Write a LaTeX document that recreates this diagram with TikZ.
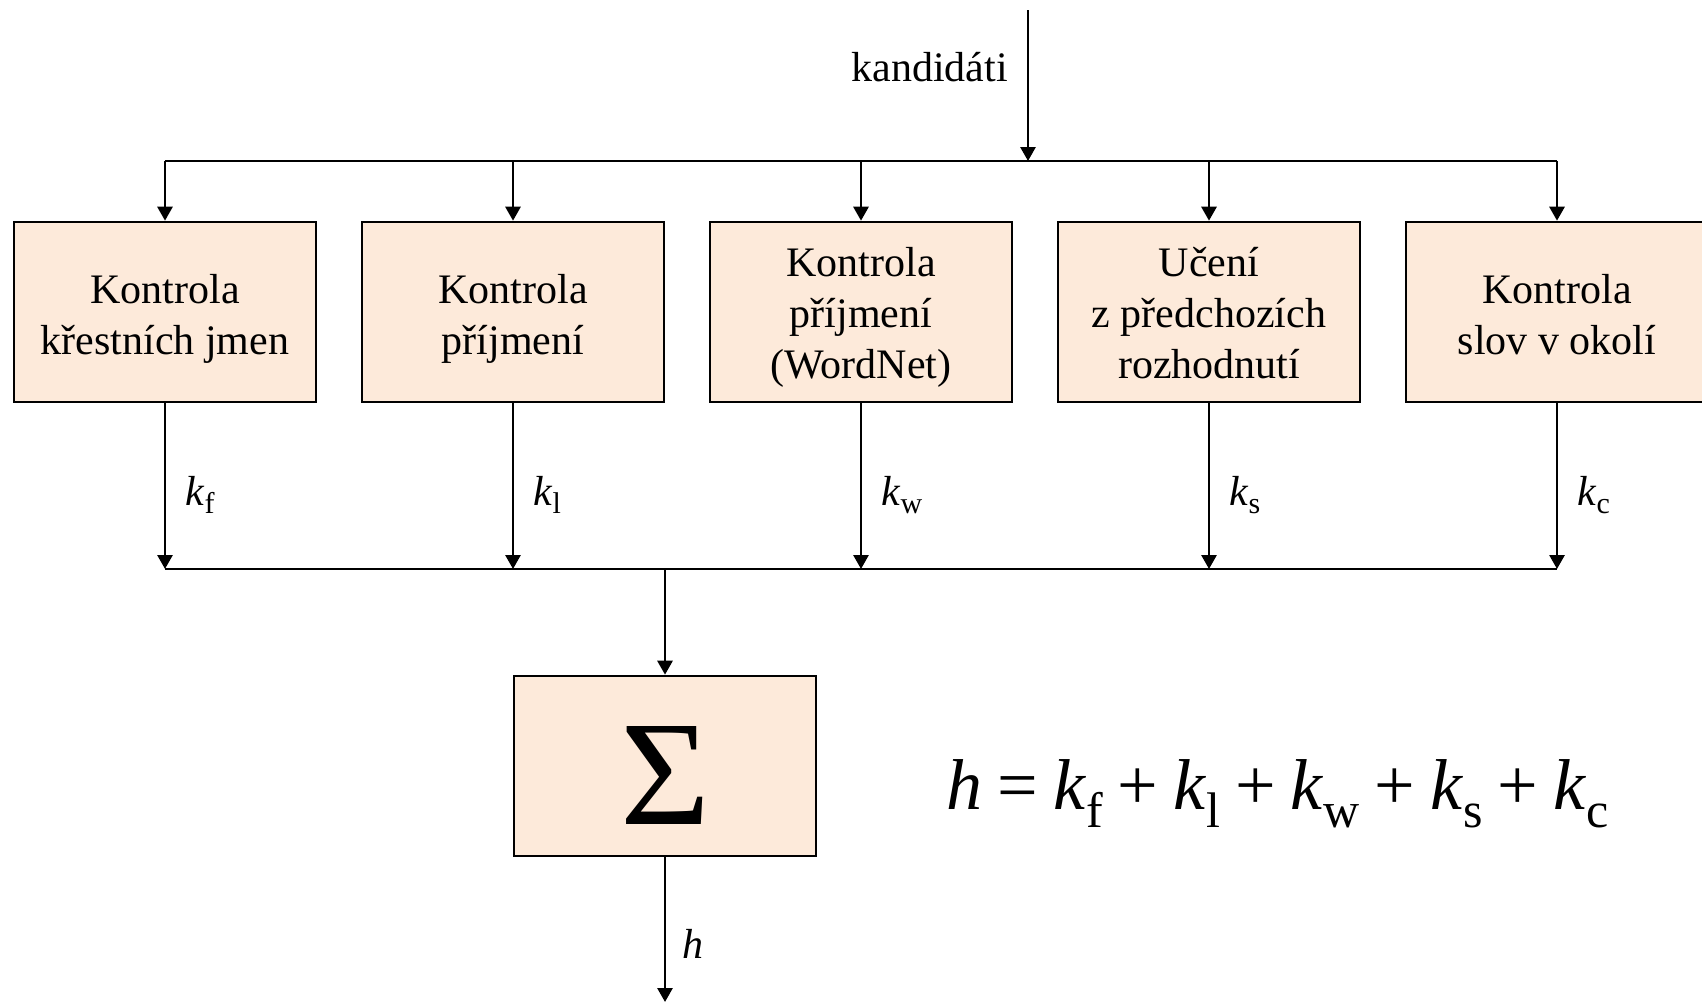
\documentclass[tikz,border=0pt]{standalone}
\usepackage{fontspec}
\setmainfont{Liberation Serif}
\usetikzlibrary{arrows.meta}
\definecolor{boxfill}{RGB}{253,234,218}
\newcommand{\kk}[1]{\textit{k}\raisebox{-4pt}{\fontsize{15}{15}\selectfont #1}}
\newcommand{\kbig}[1]{\textit{k}\raisebox{-9pt}{\fontsize{25}{25}\selectfont #1}}
\newcommand{\gp}{\hspace{7.5pt}}
\newcommand{\lowtext}[2]{\raisebox{#1}[0pt][0pt]{\begin{tabular}{@{}c@{}}#2\end{tabular}}}
\begin{document}
\begin{tikzpicture}[x=0.5pt,y=-0.5pt,
  every node/.style={font=\fontsize{21}{25.5}\selectfont},
  blk/.style={draw, line width=1.3pt, fill=boxfill, minimum width=151pt, minimum height=90pt, inner sep=0pt, align=center},
  conn/.style={line width=1.4pt, -{Triangle[width=7.5pt,length=7pt]}},
  wire/.style={line width=1.4pt}]
\useasboundingbox (0,0) rectangle (1702,1002);
\node[blk] (b1) at (165,312) {\lowtext{-8.6pt}{Kontrola\\křestních jmen}};
\node[blk] (b2) at (513,312) {\lowtext{-8.6pt}{Kontrola\\příjmení}};
\node[blk] (b3) at (861,312) {\lowtext{-8pt}{Kontrola\\příjmení\\(WordNet)}};
\node[blk] (b4) at (1209,312) {\lowtext{-8pt}{Učení\\z předchozích\\rozhodnutí}};
\node[blk] (b5) at (1557,312) {\lowtext{-8.6pt}{Kontrola\\slov v okolí}};
\node[blk] (sum) at (665,766) {\raisebox{-29.3pt}[0pt][0pt]{\resizebox{45pt}{49pt}{Σ}}};
\coordinate (in) at (1028,10);
\coordinate (tl) at (1028,161);
\coordinate (bl) at (665,569);
\coordinate (out) at (665,1002);
\node[anchor=east] (kand) at (1015,67) {kandidáti};
% top distribution
\draw[conn] (in) -- (tl);
\draw[wire] (b1.north |- tl) -- (b5.north |- tl);
\foreach \b in {b1,b2,b3,b4,b5} \draw[conn] (\b.north |- tl) -- (\b.north);
% bottom collection
\foreach \b in {b1,b2,b3,b4,b5} \draw[conn] (\b.south) -- (\b.south |- bl);
\draw[wire] (b1.south |- bl) -- (b5.south |- bl);
\draw[conn] (bl) -- (sum.north);
\draw[conn] (sum.south) -- (out);
% labels
\node[anchor=base west, inner sep=0pt] (lf) at (185,505) {\kk{f}};
\node[anchor=base west, inner sep=0pt] (ll) at (533,505) {\kk{l}};
\node[anchor=base west, inner sep=0pt] (lw) at (881,505) {\kk{w}};
\node[anchor=base west, inner sep=0pt] (ls) at (1229,505) {\kk{s}};
\node[anchor=base west, inner sep=0pt] (lc) at (1577,505) {\kk{c}};
\node[anchor=base west, inner sep=0pt] (lh) at (682,958) {\textit{h}};
\node[anchor=base west, inner sep=0pt, font=\fontsize{36}{40}\selectfont] (formula) at (946,809)
  {\textit{h}\gp=\gp\kbig{f}\gp+\gp\kbig{l}\gp+\gp\kbig{w}\gp+\gp\kbig{s}\gp+\gp\kbig{c}};
\end{tikzpicture}
\end{document}
